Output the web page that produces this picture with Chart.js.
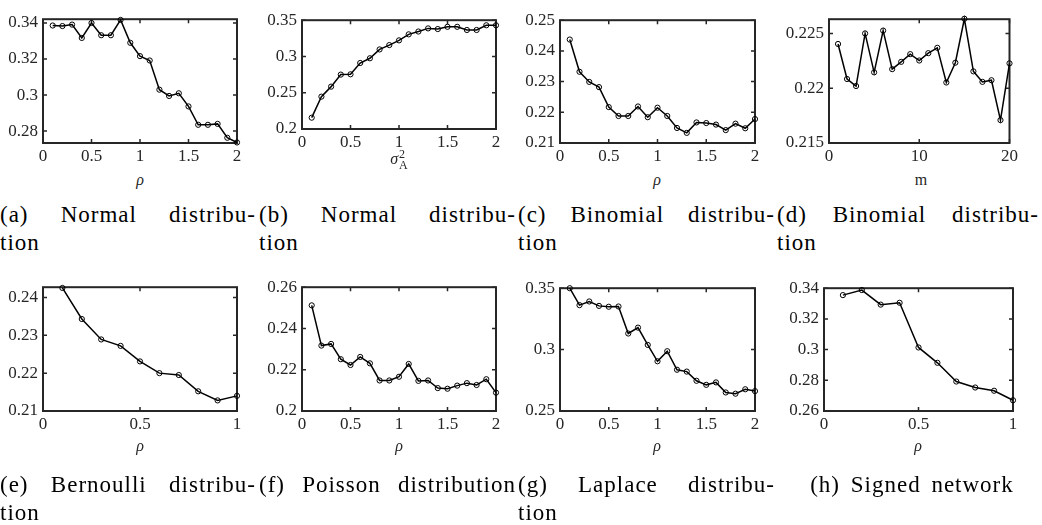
<!DOCTYPE html>
<html>
<head>
<meta charset="utf-8">
<script src="https://cdn.jsdelivr.net/npm/chart.js@4.4.1/dist/chart.umd.min.js"></script>
<style>
  body { margin: 0; background: #fff; }
  #page { position: relative; width: 1042px; height: 525px; overflow: hidden; font-family: "Liberation Serif", "DejaVu Serif", serif; color: #000; }
  canvas { position: absolute; }
  .axis-title { position: absolute; transform: translate(-50%, -50%); font-size: 16px; color: #262626; white-space: nowrap; line-height: 1; }
  .axis-title i { font-style: italic; }
  .supsub { display: inline-block; vertical-align: middle; font-size: 12px; line-height: 11px; text-align: left; margin-left: 1px; }
  .supsub span { display: block; }
  .cap { position: absolute; font-size: 23px; line-height: 28px; letter-spacing: 1px; white-space: nowrap; }
  .cap .l1 { display: flex; justify-content: space-between; }
  .cap.center .l1 { justify-content: center; word-spacing: 4px; }
</style>
</head>
<body>
<div id="page"></div>
<script>
// x values
const rho20 = [0.1, 0.2, 0.3, 0.4, 0.5, 0.6, 0.7, 0.8, 0.9, 1.0, 1.1, 1.2, 1.3, 1.4, 1.5, 1.6, 1.7, 1.8, 1.9, 2.0]
const rho10 = [0.1, 0.2, 0.3, 0.4, 0.5, 0.6, 0.7, 0.8, 0.9, 1.0]
const mVals = [1, 2, 3, 4, 5, 6, 7, 8, 9, 10, 11, 12, 13, 14, 15, 16, 17, 18, 19, 20]

// series
const normalRho = [0.3386, 0.3383, 0.3391, 0.3317, 0.3400, 0.3332, 0.3332, 0.3417, 0.3290, 0.3216,
                   0.3192, 0.3030, 0.2995, 0.3010, 0.2937, 0.2835, 0.2835, 0.2840, 0.2763, 0.2737]
const normalSigma = [0.2156, 0.2446, 0.2584, 0.2750, 0.2754, 0.2910, 0.2975, 0.3097, 0.3157, 0.3222,
                     0.3305, 0.3344, 0.3387, 0.3378, 0.3409, 0.3409, 0.3365, 0.3365, 0.3430, 0.3430]
const binomialRho = [0.2437, 0.2332, 0.2299, 0.2282, 0.2217, 0.2188, 0.2188, 0.2219, 0.2184, 0.2215,
                     0.2188, 0.2149, 0.2133, 0.2167, 0.2165, 0.2160, 0.2142, 0.2163, 0.2148, 0.2178]
const binomialM = [0.22404, 0.22084, 0.22020, 0.22500, 0.22145, 0.22526, 0.22174, 0.22241, 0.22311, 0.22253,
                   0.22320, 0.22369, 0.22052, 0.22233, 0.22634, 0.22154, 0.22058, 0.22073, 0.21709, 0.22227]
const bernoulliRho = [0.2425, 0.2343, 0.2289, 0.2272, 0.2231, 0.2200, 0.2195, 0.2152, 0.2128, 0.2140]
const poissonRho = [0.2512, 0.2317, 0.2325, 0.2251, 0.2223, 0.2262, 0.2231, 0.2148, 0.2148, 0.2166,
                    0.2228, 0.2146, 0.2148, 0.2111, 0.2108, 0.2123, 0.2135, 0.2126, 0.2154, 0.2089]
const laplaceRho = [0.3500, 0.3362, 0.3392, 0.3356, 0.3349, 0.3351, 0.3131, 0.3179, 0.3038, 0.2905,
                    0.2987, 0.2836, 0.2821, 0.2746, 0.2713, 0.2733, 0.2651, 0.2641, 0.2677, 0.2662]
const signedRho = [0.3355, 0.3388, 0.3293, 0.3305, 0.3014, 0.2914, 0.2792, 0.2753, 0.2732, 0.2670]

// tick values
const xTicks2 = [0, 0.5, 1, 1.5, 2]
const xTicks1 = [0, 0.5, 1]
const xTicksM = [0, 10, 20]
const yTicksA = [0.28, 0.30, 0.32, 0.34]
const yTicksB = [0.2, 0.25, 0.3, 0.35]
const yTicksC = [0.21, 0.22, 0.23, 0.24, 0.25]
const yTicksD = [0.215, 0.22, 0.225]
const yTicksE = [0.21, 0.22, 0.23, 0.24]
const yTicksF = [0.2, 0.22, 0.24, 0.26]
const yTicksG = [0.25, 0.3, 0.35]
const yTicksH = [0.26, 0.28, 0.3, 0.32, 0.34]

const RHO = '<i>ρ</i>'
const SIGMA = '<i>σ</i><span class="supsub"><span>2</span><span>A</span></span>'

// box = [left, top, right, bottom] of the plot area on the page
const panels = [
  { x: rho20, y: normalRho, xr: [0, 2], yr: [0.2734, 0.3421], xt: xTicks2, yt: yTicksA, box: [43, 12, 237, 143],
    title: RHO, titlePos: [140, 180], cap: [['(a)', 'Normal', 'distribu-'], 'tion'], capBox: [0, 256, 201] },
  { x: rho20, y: normalSigma, xr: [0, 2], yr: [0.2, 0.35], xt: xTicks2, yt: yTicksB, box: [302, 13, 496, 129],
    title: SIGMA, titlePos: [399, 160], cap: [['(b)', 'Normal', 'distribu-'], 'tion'], capBox: [259, 516, 201] },
  { x: rho20, y: binomialRho, xr: [0, 2], yr: [0.21, 0.25], xt: xTicks2, yt: yTicksC, box: [560, 13, 755, 143],
    title: RHO, titlePos: [657, 180], cap: [['(c)', 'Binomial', 'distribu-'], 'tion'], capBox: [518, 775, 201] },
  { x: mVals, y: binomialM, xr: [0, 20], yr: [0.215, 0.2263], xt: xTicksM, yt: yTicksD, box: [829, 12, 1013, 143],
    title: 'm', titlePos: [921, 180], cap: [['(d)', 'Binomial', 'distribu-'], 'tion'], capBox: [777, 1039, 201] },
  { x: rho10, y: bernoulliRho, xr: [0, 1], yr: [0.21, 0.2427], xt: xTicks1, yt: yTicksE, box: [43, 280, 237, 411],
    title: RHO, titlePos: [140, 446], cap: [['(e)', 'Bernoulli', 'distribu-'], 'tion'], capBox: [0, 256, 471] },
  { x: rho20, y: poissonRho, xr: [0, 2], yr: [0.2, 0.26], xt: xTicks2, yt: yTicksF, box: [302, 280, 496, 411],
    title: RHO, titlePos: [399, 446], cap: [['(f)', 'Poisson', 'distribution'], ''], capBox: [259, 516, 471] },
  { x: rho20, y: laplaceRho, xr: [0, 2], yr: [0.25, 0.35], xt: xTicks2, yt: yTicksG, box: [560, 281, 755, 411],
    title: RHO, titlePos: [657, 446], cap: [['(g)', 'Laplace', 'distribu-'], 'tion'], capBox: [518, 775, 471] },
  { x: rho10, y: signedRho, xr: [0, 1], yr: [0.26, 0.34], xt: xTicks1, yt: yTicksH, box: [824, 281, 1013, 411],
    title: RHO, titlePos: [918, 446], cap: [['(h) Signed network'], ''], capBox: [777, 1047, 471], center: true }
]

const INK = '#262626'
const SERIF = '"Liberation Serif", "DejaVu Serif", serif'
const fmt = v => String(+v.toFixed(4))

// MATLAB-like box with inward ticks on all four sides
const boxPlugin = {
  id: 'matlabBox',
  beforeDatasetsDraw(chart) {
    const { ctx, chartArea: a, scales: { x, y } } = chart
    ctx.save()
    ctx.strokeStyle = INK
    ctx.lineWidth = 1.5
    ctx.beginPath()
    x.ticks.forEach(t => {
      const px = x.getPixelForValue(t.value)
      ctx.moveTo(px, a.bottom); ctx.lineTo(px, a.bottom - 4)
      ctx.moveTo(px, a.top); ctx.lineTo(px, a.top + 4)
    })
    y.ticks.forEach(t => {
      const py = y.getPixelForValue(t.value)
      ctx.moveTo(a.left, py); ctx.lineTo(a.left + 4, py)
      ctx.moveTo(a.right, py); ctx.lineTo(a.right - 4, py)
    })
    ctx.stroke()
    ctx.lineWidth = 2
    ctx.strokeRect(a.left, a.top, a.right - a.left, a.bottom - a.top)
    ctx.restore()
  }
}

const page = document.getElementById('page')
const yW = 44, padT = 8, padR = 8, xH = 28

function makePanel(p) {
  const [l, t, r, b] = p.box
  const canvas = document.createElement('canvas')
  canvas.width = r - l + yW + padR
  canvas.height = b - t + padT + xH
  canvas.style.left = (l - yW) + 'px'
  canvas.style.top = (t - padT) + 'px'
  page.appendChild(canvas)

  const tickFont = { family: SERIF, size: 17 }

  new Chart(canvas, {
    type: 'line',
    data: {
      datasets: [{
        data: p.x.map((x, i) => ({ x: x, y: p.y[i] })),
        borderColor: '#000',
        borderWidth: 1.5,
        pointRadius: 2.6,
        pointBorderWidth: 1,
        pointBorderColor: '#000',
        pointBackgroundColor: 'rgba(255,255,255,0)',
        tension: 0,
        clip: false
      }]
    },
    options: {
      responsive: false,
      animation: false,
      events: [],
      layout: { padding: { top: padT, right: padR, left: 0, bottom: 0 } },
      plugins: { legend: { display: false }, tooltip: { enabled: false } },
      scales: {
        x: {
          type: 'linear', min: p.xr[0], max: p.xr[1],
          afterBuildTicks: s => { s.ticks = p.xt.map(v => ({ value: v })) },
          afterFit: s => { s.height = xH },
          grid: { display: false, drawTicks: false },
          border: { display: false },
          ticks: { padding: 3, maxRotation: 0, autoSkip: false, color: INK, font: tickFont, callback: v => fmt(v) }
        },
        y: {
          type: 'linear', min: p.yr[0], max: p.yr[1],
          afterBuildTicks: s => { s.ticks = p.yt.map(v => ({ value: v })) },
          afterFit: s => { s.width = yW },
          grid: { display: false, drawTicks: false },
          border: { display: false },
          ticks: { padding: 5, autoSkip: false, color: INK, font: tickFont, callback: v => fmt(v) }
        }
      }
    },
    plugins: [boxPlugin]
  })

  // axis title
  const at = document.createElement('div')
  at.className = 'axis-title'
  at.style.left = p.titlePos[0] + 'px'
  at.style.top = p.titlePos[1] + 'px'
  at.innerHTML = p.title
  page.appendChild(at)

  // caption
  const [cl, cr, ct] = p.capBox
  const cap = document.createElement('div')
  cap.className = 'cap' + (p.center ? ' center' : '')
  cap.style.left = cl + 'px'
  cap.style.top = ct + 'px'
  cap.style.width = (cr - cl) + 'px'
  const l1 = document.createElement('div')
  l1.className = 'l1'
  p.cap[0].forEach(w => { const s = document.createElement('span'); s.textContent = w; l1.appendChild(s) })
  const l2 = document.createElement('div')
  l2.textContent = p.cap[1]
  cap.appendChild(l1)
  cap.appendChild(l2)
  page.appendChild(cap)
}

panels.forEach(makePanel)
</script>
</body>
</html>
